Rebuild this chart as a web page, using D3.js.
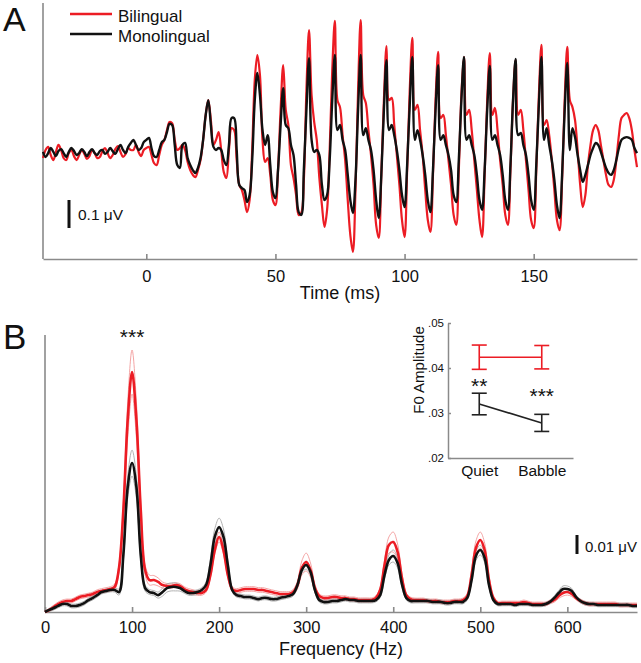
<!DOCTYPE html>
<html><head><meta charset="utf-8">
<script src="https://cdn.jsdelivr.net/npm/d3@7"></script>
<style>
body{margin:0;background:#fff}
svg{display:block}
text{font-family:"Liberation Sans",Arial,Helvetica,sans-serif;fill:#111}
</style>
</head><body>
<svg id="c" width="641" height="663"></svg>
<script>
// ---------------- DATA ----------------
// Panel A: grand-average response waveforms (µV), sampled every 1 ms from -40 to 190 ms
const timeStartMs = -40, timeEndMs = 190;
const bilingualWave = [
-0.011,0.018,0.029,0,-0.018,0.011,0.036,0.018,-0.011,-0.018,
0.007,0.018,-0.004,-0.018,0,0.018,0.004,-0.014,-0.004,0.018,
0.007,-0.011,-0.007,0.014,0.025,0.007,-0.011,0,0.021,0.032,
0.011,-0.007,0.004,0.025,0.018,0.018,0.036,0.011,-0.004,0.018,
0.025,0.029,0,-0.029,-0.036,0,0.036,0.054,0.089,0.118,
0.114,0.054,0.018,0.025,0.036,0.018,-0.025,-0.054,-0.071,-0.079,
-0.054,-0.018,0.054,0.143,0.196,0.125,0.036,0.054,0.082,0.018,
-0.061,-0.082,0.018,0.096,0.089,-0.018,-0.107,-0.125,-0.161,-0.204,
-0.161,0.018,0.268,0.357,0.286,0.054,-0.025,-0.011,-0.071,-0.161,
-0.179,-0.054,0.161,0.321,0.161,0.107,-0.036,-0.082,-0.143,-0.214,
-0.207,-0.089,0.232,0.446,0.214,0.118,0.054,-0.082,-0.179,-0.257,
-0.196,0.018,0.304,0.479,0.196,0.171,0.071,-0.018,-0.161,-0.286,
-0.346,-0.125,0.232,0.482,0.214,0.186,0.089,0,-0.107,-0.25,
-0.296,-0.071,0.196,0.389,0.196,0.204,0.107,0,-0.107,-0.232,
-0.293,-0.054,0.232,0.418,0.161,0.179,0.089,0,-0.125,-0.232,
-0.275,-0.071,0.196,0.368,0.132,0.143,0.071,-0.018,-0.107,-0.214,
-0.25,-0.054,0.214,0.35,0.143,0.161,0.089,-0.018,-0.125,-0.232,
-0.293,-0.071,0.196,0.364,0.143,0.168,0.089,-0.018,-0.107,-0.214,
-0.25,-0.054,0.196,0.339,0.143,0.161,0.089,-0.018,-0.125,-0.232,
-0.261,-0.054,0.214,0.393,0.107,0.125,0.071,-0.018,-0.125,-0.232,
-0.268,-0.089,0.196,0.386,0.196,0.171,0.125,0.018,-0.107,-0.186,
-0.143,-0.036,0.036,0.089,0.107,0.089,0.036,-0.018,-0.071,-0.107,
-0.114,-0.089,-0.018,0.071,0.132,0.143,0.15,0.132,0.089,0.018,-0.043
];
const monolingualWave = [
0.011,-0.007,0.007,0.025,0.011,-0.004,0.014,0.021,0.007,-0.007,
0.011,0.025,0.014,0,0.007,0.021,0.011,-0.004,0.011,0.021,
0.007,0,0.014,0.018,0.004,0.011,0.025,0.014,0.004,0.021,
0.036,0.018,0.007,0.029,0.043,0.054,0.036,0.018,0.025,0.046,
0.054,0.061,0.025,-0.004,-0.007,0.018,0.046,0.054,0.082,0.111,
0.107,0.036,-0.036,-0.046,0.036,0.043,-0.011,-0.036,-0.054,-0.064,
-0.046,-0.011,0.054,0.143,0.196,0.107,0.029,0.018,0.025,0.018,
-0.018,-0.036,0.036,0.132,0.132,0.018,-0.107,-0.118,-0.125,-0.168,
-0.143,-0.018,0.196,0.293,0.214,0.089,0.036,0.071,-0.036,-0.132,
-0.154,-0.054,0.107,0.239,0.107,0.096,0.036,0,-0.107,-0.204,
-0.214,-0.054,0.161,0.346,0.054,0.011,0.018,0,-0.107,-0.161,
-0.143,-0.018,0.196,0.357,0.089,0.107,0.054,0.018,-0.071,-0.161,
-0.207,-0.089,0.161,0.357,0.071,0.096,0.054,0.018,-0.054,-0.161,
-0.225,-0.071,0.161,0.339,0.089,0.107,0.071,0.018,-0.054,-0.143,
-0.186,-0.036,0.179,0.35,0.054,0.089,0.054,0,-0.071,-0.161,
-0.204,-0.054,0.161,0.321,0.054,0.071,0.036,0,-0.054,-0.143,
-0.168,-0.018,0.196,0.35,0.054,0.071,0.036,0,-0.071,-0.161,
-0.196,-0.054,0.161,0.318,0.054,0.071,0.036,0,-0.071,-0.161,
-0.196,-0.036,0.196,0.343,0.071,0.079,0.036,0,-0.071,-0.161,
-0.196,-0.036,0.179,0.35,0.054,0.096,0.036,-0.018,-0.089,-0.179,
-0.225,-0.071,0.161,0.329,0.018,0.096,0.064,0,-0.054,-0.096,
-0.071,-0.036,0,0.025,0.043,0.036,0.011,-0.018,-0.046,-0.064,
-0.071,-0.054,-0.018,0.025,0.054,0.061,0.064,0.061,0.054,0.025,0.007
];
const timeTicks = [0, 50, 100, 150];

// Panel B: spectral amplitude (µV), every 5 Hz from 0 to 680 Hz
const freqStartHz = 0, freqEndHz = 680, freqStepHz = 5;
const bilingualSpec = [
0,0.0011,0.0026,0.0042,0.0053,0.0058,0.0058,0.0068,0.0079,0.0084,
0.0089,0.0095,0.0105,0.0111,0.0116,0.0121,0.0132,0.0232,0.0537,0.1011,
0.1263,0.1011,0.0537,0.0221,0.0168,0.0168,0.0158,0.0142,0.0137,0.0137,
0.0142,0.0137,0.0121,0.0111,0.0105,0.01,0.01,0.0116,0.0195,0.0326,
0.0395,0.0326,0.0195,0.0121,0.0111,0.0116,0.0121,0.0121,0.0121,0.0116,
0.0116,0.0111,0.0105,0.01,0.0095,0.0095,0.0095,0.0105,0.0142,0.0232,
0.0263,0.0221,0.0126,0.0084,0.0074,0.0074,0.0079,0.0079,0.0074,0.0074,
0.0068,0.0068,0.0063,0.0063,0.0063,0.0063,0.0074,0.0116,0.0247,0.0353,
0.0368,0.0316,0.0179,0.0089,0.0068,0.0063,0.0063,0.0063,0.0058,0.0058,
0.0058,0.0053,0.0053,0.0053,0.0058,0.0058,0.0063,0.0084,0.0195,0.0337,
0.0379,0.0326,0.0168,0.0074,0.0047,0.0047,0.0047,0.0047,0.0047,0.0047,
0.0053,0.0047,0.0042,0.0042,0.0042,0.0042,0.0053,0.0063,0.0084,0.01,
0.0105,0.0095,0.0074,0.0058,0.0047,0.0042,0.0042,0.0042,0.0042,0.0042,
0.0042,0.0042,0.0037,0.0037,0.0037,0.0037,0.0037
];
const monolingualSpec = [
0,0.0011,0.0021,0.0032,0.0042,0.0042,0.0032,0.0032,0.0037,0.0047,
0.0063,0.0074,0.0089,0.0105,0.0111,0.0116,0.0116,0.0105,0.03,0.0658,
0.0784,0.0658,0.03,0.0126,0.0105,0.01,0.0089,0.0105,0.0126,0.0132,
0.0132,0.0126,0.0111,0.01,0.01,0.0105,0.0116,0.0142,0.0247,0.0395,
0.0447,0.0395,0.0247,0.0116,0.0089,0.0084,0.0079,0.0079,0.0074,0.0068,
0.0074,0.0074,0.0068,0.0068,0.0074,0.0079,0.0084,0.0095,0.0142,0.0221,
0.0247,0.0211,0.0116,0.0063,0.0053,0.0053,0.0058,0.0058,0.0063,0.0068,
0.0063,0.0063,0.0058,0.0058,0.0058,0.0058,0.0063,0.0089,0.0195,0.0274,
0.0295,0.0258,0.0147,0.0074,0.0058,0.0058,0.0058,0.0058,0.0058,0.0053,
0.0053,0.0053,0.0047,0.0047,0.0053,0.0053,0.0053,0.0074,0.0168,0.0295,
0.0326,0.0284,0.0142,0.0063,0.0042,0.0042,0.0042,0.0042,0.0037,0.0042,
0.0042,0.0042,0.0037,0.0037,0.0037,0.0042,0.0053,0.0074,0.01,0.0121,
0.0121,0.0111,0.0079,0.0058,0.0047,0.0042,0.0042,0.0037,0.0037,0.0037,
0.0037,0.0037,0.0037,0.0037,0.0037,0.0032,0.0032
];
const bilingualSpecSE = [
0.0005,0.0008,0.001,0.001,0.001,0.001,0.001,0.001,0.001,0.001,
0.001,0.001,0.0012,0.0012,0.0012,0.0012,0.0015,0.0021,0.0042,0.0095,
0.0116,0.0095,0.0042,0.0026,0.0026,0.0024,0.0021,0.0016,0.0013,0.0012,
0.0012,0.0012,0.0012,0.0012,0.0012,0.0012,0.0012,0.0012,0.0016,0.0021,
0.0026,0.0021,0.0016,0.0012,0.0012,0.0012,0.0012,0.0012,0.0012,0.0012,
0.0012,0.0012,0.0012,0.0012,0.0012,0.0012,0.0012,0.0013,0.0021,0.0037,
0.0047,0.0037,0.0021,0.0011,0.0011,0.0011,0.0011,0.0011,0.0011,0.0011,
0.0011,0.0011,0.0011,0.0011,0.0011,0.0011,0.0011,0.0016,0.0026,0.0042,
0.0053,0.0042,0.0026,0.001,0.001,0.001,0.001,0.001,0.001,0.001,
0.001,0.001,0.001,0.001,0.001,0.001,0.001,0.0013,0.0026,0.0037,
0.0042,0.0037,0.0021,0.001,0.001,0.001,0.001,0.001,0.001,0.001,
0.001,0.001,0.001,0.001,0.001,0.001,0.001,0.0011,0.0013,0.0016,
0.0016,0.0013,0.001,0.001,0.001,0.001,0.001,0.001,0.001,0.001,
0.001,0.001,0.001,0.001,0.001,0.001,0.001
];
const monolingualSpecSE = [
0.0005,0.0008,0.001,0.001,0.001,0.001,0.001,0.001,0.001,0.001,
0.001,0.001,0.001,0.001,0.001,0.001,0.0011,0.0016,0.0032,0.0058,
0.0068,0.0058,0.0032,0.0016,0.0013,0.0013,0.0016,0.0021,0.0021,0.0021,
0.0021,0.0016,0.0012,0.0012,0.0012,0.0012,0.0012,0.0016,0.0032,0.0042,
0.0047,0.0042,0.0026,0.001,0.001,0.001,0.001,0.001,0.001,0.001,
0.001,0.001,0.001,0.001,0.001,0.001,0.001,0.0011,0.0013,0.0016,
0.0021,0.0016,0.0013,0.001,0.001,0.001,0.001,0.001,0.001,0.001,
0.001,0.001,0.001,0.001,0.001,0.001,0.001,0.0013,0.0021,0.0026,
0.0032,0.0026,0.0016,0.001,0.001,0.001,0.001,0.001,0.001,0.001,
0.001,0.001,0.001,0.001,0.001,0.001,0.001,0.0011,0.0016,0.0024,
0.0026,0.0024,0.0013,0.0009,0.0009,0.0009,0.0009,0.0009,0.0009,0.0009,
0.0009,0.0009,0.0009,0.0009,0.0009,0.0009,0.0009,0.0011,0.0013,0.0016,
0.0016,0.0013,0.0009,0.0009,0.0009,0.0009,0.0009,0.0009,0.0009,0.0009,
0.0009,0.0009,0.0009,0.0009,0.0009,0.0009,0.0009
];
const freqTicks = [0, 100, 200, 300, 400, 500, 600];

// Inset: F0 amplitude by condition
const conditions = ["Quiet", "Babble"];
const bilingualF0 = [0.0424, 0.0424];
const bilingualF0SE = [0.0027, 0.0026];
const monolingualF0 = [0.0320, 0.0278];
const monolingualF0SE = [0.0024, 0.0019];
const insetTicks = [0.02, 0.03, 0.04, 0.05];
const insetStars = ["**", "***"];

const groups = ["Bilingual", "Monolingual"];

// ---------------- CHECK ----------------
const times = d3.range(timeStartMs, timeEndMs + 1);
const freqs = d3.range(freqStartHz, freqEndHz + 1, freqStepHz);
[bilingualWave, monolingualWave].forEach((a,i)=>{ if (a.length !== times.length) throw new Error("wave "+i+" len "+a.length+" vs "+times.length); });
[bilingualSpec, monolingualSpec, bilingualSpecSE, monolingualSpecSE].forEach((a,i)=>{ if (a.length !== freqs.length) throw new Error("spec "+i+" len "+a.length+" vs "+freqs.length); });

// ---------------- DRAW ----------------
const RED = "#ec1c24", BLK = "#111111", AXIS = "#8a8a8a";
const svg = d3.select("#c");

// ===== Panel A =====
const xA = d3.scaleLinear().domain([-40, 190]).range([43, 637]);
const yA = d3.scaleLinear().domain([-0.3714, 0.5429]).range([259, 3]);

svg.append("text").attr("x", 3).attr("y", 31).attr("font-size", 34).text("A");

const gAx = svg.append("g").attr("transform", "translate(0,259)")
  .call(d3.axisBottom(xA).tickValues(timeTicks).tickSizeInner(-5).tickSizeOuter(0).tickPadding(11));
gAx.selectAll("path,line").attr("stroke", AXIS).attr("stroke-width", 1.6);
gAx.selectAll("text").attr("font-size", 16.5).attr("fill", "#111").style("font-family", "'Liberation Sans',Arial,sans-serif");
svg.append("line").attr("x1", 43).attr("x2", 43).attr("y1", 3).attr("y2", 259).attr("stroke", AXIS).attr("stroke-width", 1.6);
svg.append("text").attr("x", 340).attr("y", 299).attr("text-anchor", "middle").attr("font-size", 18).text("Time (ms)");

const lineA = d3.line().x((d,i)=>xA(times[i])).y(d=>yA(d)).curve(d3.curveCatmullRom.alpha(0.5));
svg.append("path").datum(bilingualWave).attr("d", lineA).attr("fill","none").attr("stroke",RED).attr("stroke-width",2.2).attr("stroke-linejoin","round");
svg.append("path").datum(monolingualWave).attr("d", lineA).attr("fill","none").attr("stroke",BLK).attr("stroke-width",2.4).attr("stroke-linejoin","round");

// scale bar 0.1 µV
const barTopA = 200;
svg.append("line").attr("x1",69).attr("x2",69).attr("y1",barTopA).attr("y2",barTopA + (yA(0) - yA(0.1)))
  .attr("stroke",BLK).attr("stroke-width",3);
svg.append("text").attr("x",78).attr("y",220).attr("font-size",15.5).text("0.1 μV");

// legend
const legend = svg.append("g");
groups.forEach((g,i)=>{
  const y = 14 + i*20;
  legend.append("line").attr("x1",70).attr("x2",112).attr("y1",y).attr("y2",y)
    .attr("stroke", i===0?RED:BLK).attr("stroke-width",2.5);
  legend.append("text").attr("x",118).attr("y",y+8).attr("font-size",17).text(g);
});

// ===== Panel B =====
const xB = d3.scaleLinear().domain([0, 680]).range([45, 637]);
const yB = d3.scaleLinear().domain([0, 0.1458]).range([612, 335]);

svg.append("text").attr("x", 3).attr("y", 349).attr("font-size", 35).text("B");

const gBx = svg.append("g").attr("transform", "translate(0,612)")
  .call(d3.axisBottom(xB).tickValues(freqTicks).tickSizeInner(-5).tickSizeOuter(0).tickPadding(9));
gBx.selectAll("path,line").attr("stroke", AXIS).attr("stroke-width", 1.6);
gBx.selectAll("text").attr("font-size", 16.5).attr("fill", "#111").style("font-family", "'Liberation Sans',Arial,sans-serif");
svg.append("line").attr("x1", 45).attr("x2", 45).attr("y1", 335).attr("y2", 612).attr("stroke", AXIS).attr("stroke-width", 1.6);
svg.append("text").attr("x", 341).attr("y", 655).attr("text-anchor", "middle").attr("font-size", 18).text("Frequency (Hz)");

const lineB = d3.line().x((d,i)=>xB(freqs[i])).y(d=>yB(d)).curve(d3.curveCatmullRom.alpha(0.5));
function band(mean, se, sign){ return mean.map((m,i)=>Math.max(0, m + sign*se[i])); }
// faint SE lines
[[bilingualSpec, bilingualSpecSE, "#f29a9a"], [monolingualSpec, monolingualSpecSE, "#a8a8a8"]].forEach(([m,s,c])=>{
  [1,-1].forEach(sg=>{
    svg.append("path").datum(band(m,s,sg)).attr("d", lineB).attr("fill","none").attr("stroke",c).attr("stroke-width",0.9);
  });
});
svg.append("path").datum(bilingualSpec).attr("d", lineB).attr("fill","none").attr("stroke",RED).attr("stroke-width",2.6).attr("stroke-linejoin","round");
svg.append("path").datum(monolingualSpec).attr("d", lineB).attr("fill","none").attr("stroke",BLK).attr("stroke-width",2.6).attr("stroke-linejoin","round");

svg.append("text").attr("x", xB(100)).attr("y", 344).attr("text-anchor","middle").attr("font-size",21).text("***");

// scale bar 0.01 µV
const barTopB = 535;
svg.append("line").attr("x1",577).attr("x2",577).attr("y1",barTopB).attr("y2",barTopB + (yB(0) - yB(0.01)))
  .attr("stroke",BLK).attr("stroke-width",3);
svg.append("text").attr("x",585).attr("y",552).attr("font-size",15).text("0.01 μV");

// ===== Inset =====
const xI = d3.scalePoint().domain(conditions).range([448, 573]).padding(0.5);
const yI = d3.scaleLinear().domain([0.02, 0.05]).range([458, 323]);

const gIy = svg.append("g").attr("transform","translate(448,0)")
  .call(d3.axisLeft(yI).tickValues(insetTicks).tickSizeInner(-3).tickSizeOuter(0).tickPadding(4)
    .tickFormat(d=>d3.format(".2f")(d).replace(/^0/,"")));
gIy.selectAll("path,line").attr("stroke", AXIS).attr("stroke-width", 1.5);
gIy.selectAll("text").attr("font-size", 11.5).attr("fill","#222").style("font-family", "'Liberation Sans',Arial,sans-serif");
const gIx = svg.append("g").attr("transform","translate(0,458)")
  .call(d3.axisBottom(xI).tickSizeInner(0).tickSizeOuter(0).tickPadding(7));
gIx.selectAll("path").attr("stroke", AXIS).attr("stroke-width", 1.5);
gIx.selectAll("text").attr("font-size", 15.5).attr("fill","#111").style("font-family", "'Liberation Sans',Arial,sans-serif");
svg.append("text").attr("transform","translate(424,370) rotate(-90)").attr("text-anchor","middle").attr("font-size",15).text("F0 Amplitude");

function series(mean, se, color){
  const pts = conditions.map((c,i)=>({c, m:mean[i], s:se[i]}));
  svg.append("path").datum(pts).attr("d", d3.line().x(d=>xI(d.c)).y(d=>yI(d.m)))
    .attr("fill","none").attr("stroke",color).attr("stroke-width",1.6);
  const g = svg.append("g").attr("stroke",color).attr("stroke-width",1.6);
  pts.forEach(p=>{
    const x = xI(p.c);
    g.append("line").attr("x1",x).attr("x2",x).attr("y1",yI(p.m-p.s)).attr("y2",yI(p.m+p.s));
    g.append("line").attr("x1",x-7.5).attr("x2",x+7.5).attr("y1",yI(p.m-p.s)).attr("y2",yI(p.m-p.s));
    g.append("line").attr("x1",x-7.5).attr("x2",x+7.5).attr("y1",yI(p.m+p.s)).attr("y2",yI(p.m+p.s));
  });
}
series(bilingualF0, bilingualF0SE, RED);
series(monolingualF0, monolingualF0SE, "#222");
svg.append("text").attr("x", xI("Quiet")).attr("y", 393).attr("text-anchor","middle").attr("font-size",21).text(insetStars[0]);
svg.append("text").attr("x", xI("Babble")).attr("y", 403).attr("text-anchor","middle").attr("font-size",21).text(insetStars[1]);
</script>
</body></html>
